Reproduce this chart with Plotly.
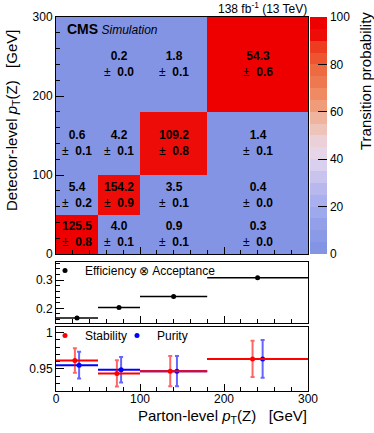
import plotly.graph_objects as go

# binning (GeV)
edges = [0, 50, 100, 180, 300]

# migration matrix: rows = detector-level bin, cols = parton-level bin
counts = [
    [125.5, 4.0, 0.9, 0.3],
    [5.4, 154.2, 3.5, 0.4],
    [0.6, 4.2, 109.2, 1.4],
    [None, 0.2, 1.8, 54.3],
]
count_err = [
    [0.8, 0.1, 0.1, 0.0],
    [0.2, 0.9, 0.1, 0.0],
    [0.1, 0.1, 0.8, 0.1],
    [None, 0.0, 0.1, 0.6],
]

efficiency = [0.166, 0.203, 0.242, 0.308]
efficiency_err = [0.002, 0.002, 0.002, 0.003]
stability = [0.9615, 0.9437, 0.9468, 0.9637]
stability_err = [0.017, 0.018, 0.021, 0.025]
purity = [0.955, 0.9487, 0.9468, 0.9637]
purity_err = [0.0185, 0.0175, 0.021, 0.026]

palette = ["#8494e4", "#8a9ae7", "#949fea", "#9ea8ec", "#aab0ef", "#b8b8ef",
           "#c8c4ee", "#d8d0ee", "#e6d6e8", "#ecd0d8", "#efc4b8", "#f0b49e",
           "#f09c7a", "#ef8a62", "#ee7850", "#ee6a40", "#ee5430", "#ee3c20",
           "#ee0c08", "#ee0000"]

FONT = "Liberation Sans"
W, H = 374, 433

def px_x(p):
    return p / W

def px_y(p):
    return (H - p) / H

# column-normalised probability (%) for the colour
col_sum = [sum(counts[r][c] or 0 for r in range(4)) for c in range(4)]
z = [[(counts[r][c] or 0) / col_sum[c] * 100 for c in range(4)] for r in range(4)]
text = [["" if counts[r][c] is None else
         "<b>%.1f</b><br>\u00b1  <b>%.1f</b>" % (counts[r][c], count_err[r][c])
         for c in range(4)] for r in range(4)]

cscale = []
n = len(palette)
for i, col in enumerate(palette):
    cscale.append([i / n, col])
    cscale.append([(i + 1) / n, col])

centers = [(edges[i] + edges[i + 1]) / 2 for i in range(4)]
widths = [edges[i + 1] - edges[i] for i in range(4)]
half = [w / 2 for w in widths]

fig = go.Figure()

fig.add_trace(go.Heatmap(
    x=edges, y=edges, z=z, zmin=0, zmax=100, colorscale=cscale,
    text=text, texttemplate="%{text}",
    textfont=dict(family=FONT, size=12, color="black"),
    hoverinfo="skip",
    colorbar=dict(thickness=17, x=px_x(310), xanchor="left", xpad=0, ypad=0,
                  y=px_y(254), yanchor="bottom", len=237 / H,
                  outlinewidth=0, tickvals=[0, 20, 40, 60, 80, 100],
                  ticks="inside", ticklen=9, tickcolor="black",
                  tickfont=dict(family=FONT, size=12, color="black")),
    xaxis="x", yaxis="y",
))

fig.add_trace(go.Scatter(
    x=centers, y=efficiency, mode="markers", name="Efficiency \u2297 Acceptance",
    marker=dict(color="black", size=5),
    error_x=dict(type="data", array=half, color="black", thickness=1.5, width=0),
    error_y=dict(type="data", array=efficiency_err, color="black", thickness=1.5, width=0),
    xaxis="x2", yaxis="y2", legend="legend", showlegend=True,
))

off = [0.05 * w for w in widths]
fig.add_trace(go.Scatter(
    x=[c + o for c, o in zip(centers, off)], y=purity, mode="markers", name="Purity",
    marker=dict(color="#0000ff", size=5),
    error_x=dict(type="data", symmetric=False, array=[h - o for h, o in zip(half, off)],
                 arrayminus=[h + o for h, o in zip(half, off)], color="#0000ff", thickness=2, width=0),
    error_y=dict(type="data", array=purity_err, color="rgba(0,0,255,0.6)", thickness=2, width=2),
    xaxis="x3", yaxis="y3", legend="legend2",
))
fig.add_trace(go.Scatter(
    x=[c - o for c, o in zip(centers, off)], y=stability, mode="markers", name="Stability",
    marker=dict(color="#ff0000", size=5),
    error_x=dict(type="data", symmetric=False, array=[h + o for h, o in zip(half, off)],
                 arrayminus=[h - o for h, o in zip(half, off)], color="#ff0000", thickness=2, width=0),
    error_y=dict(type="data", array=stability_err, color="rgba(255,0,0,0.6)", thickness=2, width=2),
    xaxis="x3", yaxis="y3", legend="legend2",
))

dom_x = [px_x(56), px_x(308)]
axis_common = dict(showline=True, mirror=True, linecolor="black", linewidth=1,
                   ticks="inside", tickcolor="black", showgrid=False, zeroline=False,
                   automargin=False,
                   tickfont=dict(family=FONT, size=12, color="black"))
minor20 = dict(dtick=20, ticks="inside", ticklen=4, tickcolor="black")

fig.update_layout(
    width=W, height=H, margin=dict(l=0, r=0, t=0, b=0, autoexpand=False),
    paper_bgcolor="white", plot_bgcolor="white", showlegend=True,
    font=dict(family=FONT, size=12, color="black"),
    xaxis=dict(domain=dom_x, anchor="y", range=[0, 300], showticklabels=False,
               dtick=100, ticklen=7, minor=minor20, **axis_common),
    yaxis=dict(domain=[px_y(254), px_y(17)], anchor="x", range=[0, 300],
               dtick=100, ticklen=8, minor=minor20, **axis_common),
    xaxis2=dict(domain=dom_x, anchor="y2", range=[0, 300], showticklabels=False,
                dtick=100, ticklen=7, minor=minor20, **axis_common),
    yaxis2=dict(domain=[px_y(323), px_y(262)], anchor="x2", range=[0.148, 0.364],
                tickvals=[0.2, 0.3], ticklen=8,
                minor=dict(dtick=0.02, ticks="inside", ticklen=4, tickcolor="black"),
                **axis_common),
    xaxis3=dict(domain=dom_x, anchor="y3", range=[0, 300], ticklabelstandoff=-3,
                dtick=100, ticklen=7, minor=minor20, **axis_common),
    yaxis3=dict(domain=[px_y(391), px_y(327)], anchor="x3", range=[0.9194, 1.0077],
                tickvals=[0.95, 1], ticktext=["0.95", "1"], ticklen=8,
                minor=dict(dtick=0.01, ticks="inside", ticklen=4, tickcolor="black"),
                **axis_common),
    legend=dict(x=px_x(45), y=px_y(256), xanchor="left", yanchor="top",
                bgcolor="rgba(0,0,0,0)", font=dict(family=FONT, size=12, color="black"),
                itemwidth=30, tracegroupgap=0),
    legend2=dict(x=px_x(45), y=px_y(321), xanchor="left", yanchor="top", orientation="h",
                 bgcolor="rgba(0,0,0,0)", font=dict(family=FONT, size=12, color="black"),
                 itemwidth=30, traceorder="reversed", entrywidth=27),
)

fig.add_annotation(text="<b><span style='font-size:14px'>CMS</span></b> <i>Simulation</i>",
                   xref="paper", yref="paper", x=px_x(65), y=px_y(29),
                   xanchor="left", yanchor="middle", showarrow=False,
                   font=dict(family=FONT, size=12, color="black"))
fig.add_annotation(text="138 fb<sup>-1</sup> (13 TeV)",
                   xref="paper", yref="paper", x=px_x(309), y=px_y(8),
                   xanchor="right", yanchor="middle", showarrow=False,
                   font=dict(family=FONT, size=12, color="black"))
fig.add_annotation(text="Detector-level <i>p</i><sub>T</sub>(Z)\u00a0\u00a0\u00a0[GeV]",
                   xref="paper", yref="paper", x=px_x(13), y=px_y(121),
                   xanchor="center", yanchor="middle", textangle=-90, showarrow=False,
                   font=dict(family=FONT, size=15, color="black"))
fig.add_annotation(text="Parton-level <i>p</i><sub>T</sub>(Z)\u00a0\u00a0\u00a0[GeV]",
                   xref="paper", yref="paper", x=px_x(309), y=px_y(416),
                   xanchor="right", yanchor="middle", showarrow=False,
                   font=dict(family=FONT, size=15, color="black"))
fig.add_annotation(text="Transition probability",
                   xref="paper", yref="paper", x=px_x(365), y=px_y(81),
                   xanchor="center", yanchor="middle", textangle=-90, showarrow=False,
                   font=dict(family=FONT, size=15, color="black"))

fig.write_html("out.html", config={"displayModeBar": False},
               post_script="document.body.style.margin='0px';")
